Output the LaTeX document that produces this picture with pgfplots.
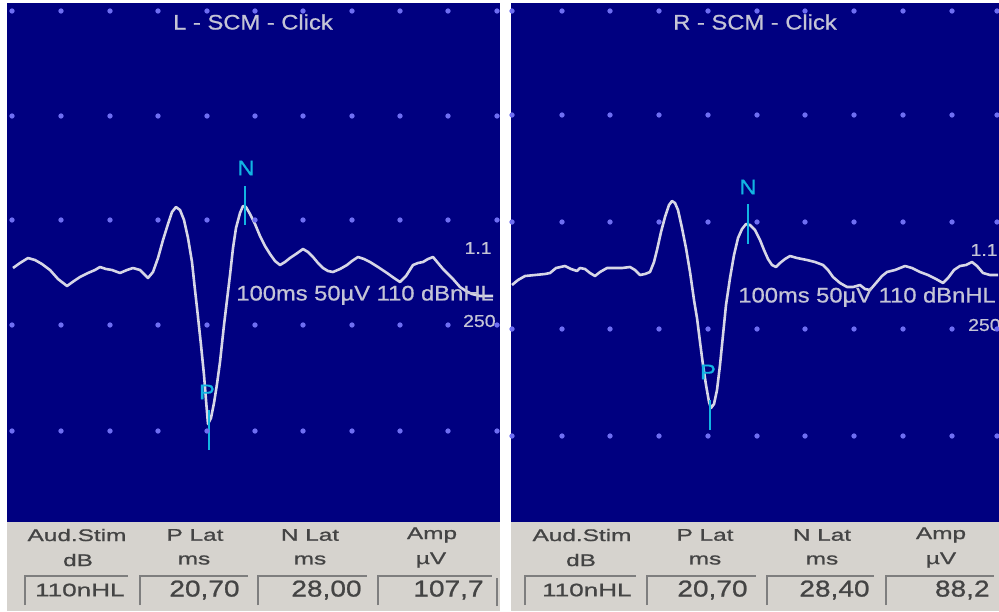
\documentclass[border=0pt]{standalone}
\usepackage{pgfplots}
\pgfplotsset{compat=1.18}
\usepackage{fontspec}
\setmainfont{Liberation Sans}
\newfontfamily\plotfont[FakeStretch=1.13,FakeBold=0.8]{Liberation Sans}
\newfontfamily\tabfont[FakeStretch=1.45,FakeBold=1.0]{Liberation Sans}
\newfontfamily\valfont[FakeStretch=1.22,FakeBold=0.9]{Liberation Sans}
\definecolor{bgblue}{HTML}{000080}
\definecolor{dotc}{HTML}{6E6EF2}
\definecolor{trace}{HTML}{D6D6E6}
\definecolor{mk}{HTML}{12B4E2}
\definecolor{txt}{HTML}{C4C4D6}
\definecolor{panel}{HTML}{D6D3CE}
\definecolor{boxl}{HTML}{7E7E7E}
\definecolor{tabtxt}{HTML}{444444}
\newcommand\ttlfont{\plotfont\fontsize{10.5pt}{12pt}\selectfont}
\newcommand\smlfont{\plotfont\fontsize{8.6pt}{10pt}\selectfont}
\newcommand\hdrfont{\tabfont\fontsize{8.4pt}{10pt}\selectfont}
\newcommand\vlfont{\valfont\fontsize{11.5pt}{13pt}\selectfont}
\newcommand\nhlfont{\tabfont\fontsize{9pt}{11pt}\selectfont}

\pgfplotstableread{
x y
13 268
20 263
28 258
35 260
42 264
50 270
58 279
67 286
74 281
80 277
88 273
95 270
100 267
106 269
112 270
120 273
127 270
133 268
140 270
148 278
153 272
158 258
163 240
168 224
172 212
176 207
180 210
184 220
188 238
192 262
195 290
198 317
201 345
204 375
206 400
208 424
211 418
214 403
217 384
220 362
224 325
227 300
230 275
233 248
236 228
240 213
243 206
246 207
250 214
255 224
260 236
265 246
270 254
275 261
280 265
285 262
290 258
296 254
303 249
308 252
313 257
318 263
323 268
328 271
333 272
340 269
347 265
352 261
358 257
364 259
370 262
378 267
387 273
394 278
400 282
406 276
413 265
418 263
423 262
428 259
433 257
438 263
443 269
447 273
453 279
460 287
466 291
472 294
480 296
493 296
}\leftdata

\pgfplotstableread{
x y
512 285
518 280
525 276
535 275
545 274
550 273
556 268
565 266
571 269
577 271
580 268
585 269
590 273
595 276
600 272
607 268
615 268
622 268
630 267
635 270
640 275
645 274
650 272
654 262
657 250
661 232
665 217
669 205
672 201
675 203
678 210
682 228
686 248
690 272
694 300
697 318
700 342
703 365
706 385
709 402
711 408
714 404
717 390
720 365
723 335
726 305
730 278
734 255
738 238
742 229
746 224
750 225
755 230
760 240
764 250
768 259
772 265
776 267
780 263
785 259
790 256
797 258
807 260
815 262
823 265
828 270
833 277
840 283
847 287
853 287
860 285
865 289
870 290
876 283
882 276
887 272
895 270
905 266
912 268
920 272
928 275
936 279
943 283
948 278
954 270
960 266
966 265
972 262
977 266
983 273
990 275
998 275
}\rightdata

\pgfplotsset{vemp/.style={
  scale only axis, y dir=reverse, clip=false,
  axis line style={draw=none}, ticks=none,
  axis background/.style={fill=bgblue},
  anchor=center, height=259.5pt,
  ymin=3, ymax=522,
}}

\begin{document}
\begin{tikzpicture}
\useasboundingbox (0,0) rectangle (499.5pt,305.5pt);
\fill[white] (0,0) rectangle (499.5pt,305.5pt);

% ---------------- left panel ----------------
\begin{axis}[vemp, at={(126.75pt,174.25pt)}, width=246.5pt, xmin=7, xmax=500]
\addplot[trace, line width=1.3pt, line join=round, no marks] table[x=x,y=y] {\leftdata};
\addplot[only marks, mark=*, mark size=1.1pt, color=dotc] coordinates {
(12,116)(61,116)(110,116)(158,116)(207,116)(255,116)(303,116)(352,116)(400,116)(448,116)(497,116)
(12,220)(61,220)(110,220)(158,220)(207,220)(255,220)(303,220)(352,220)(400,220)(448,220)(497,220)
(12,325)(61,325)(110,325)(158,325)(207,325)(255,325)(303,325)(352,325)(400,325)(448,325)(497,325)
(12,431)(61,431)(110,431)(158,431)(207,431)(255,431)(303,431)(352,431)(400,431)(448,431)(497,431)};
\addplot[only marks, mark=*, mark size=1.1pt, color=dotc] table {
x y
12 11
61 11
110 11
158 11
207 11
255 11
303 11
352 11
400 11
448 11
497 11
};
\addplot[mk, line width=1.2pt, no marks] coordinates {(245,186) (245,225)};
\addplot[mk, line width=1.2pt, no marks] coordinates {(209,410) (209,450)};
\node[mk, font=\ttlfont] at (axis cs:246,168) {N};
\node[mk, font=\ttlfont] at (axis cs:207,392) {P};
\node[txt, font=\ttlfont] at (axis cs:253,22) {L - SCM - Click};
\node[txt, font=\smlfont, anchor=east, inner sep=0] at (axis cs:492,248) {1.1};
\node[txt, font=\ttlfont, anchor=west, inner sep=0] at (axis cs:236,295) {100ms 50µV 110 dBnHL};
\node[txt, font=\smlfont, anchor=east, inner sep=0] at (axis cs:496,321) {250};
% table
\fill[panel] (axis cs:7,522) rectangle (axis cs:500,611);
\node[tabtxt, font=\hdrfont] at (axis cs:77,535) {Aud.Stim};
\node[tabtxt, font=\hdrfont] at (axis cs:78,560) {dB};
\node[tabtxt, font=\hdrfont] at (axis cs:195,535) {P Lat};
\node[tabtxt, font=\hdrfont] at (axis cs:194,560) {ms};
\node[tabtxt, font=\hdrfont] at (axis cs:310,535) {N Lat};
\node[tabtxt, font=\hdrfont] at (axis cs:310,560) {ms};
\node[tabtxt, font=\hdrfont] at (axis cs:432,535) {Amp};
\node[tabtxt, font=\hdrfont] at (axis cs:431,560) {µV};
\draw[boxl, line width=1.2pt] (axis cs:25,605) -- (axis cs:25,576) -- (axis cs:128,576);
\draw[boxl, line width=1.2pt] (axis cs:140,605) -- (axis cs:140,576) -- (axis cs:248,576);
\draw[boxl, line width=1.2pt] (axis cs:258,605) -- (axis cs:258,576) -- (axis cs:367,576);
\draw[boxl, line width=1.2pt] (axis cs:378,605) -- (axis cs:378,576) -- (axis cs:492,576);
\draw[boxl, line width=1.2pt] (axis cs:497,606) -- (axis cs:497,578);
\node[tabtxt, font=\nhlfont, anchor=east, inner sep=0] at (axis cs:125,590) {110nHL};
\node[tabtxt, font=\vlfont, anchor=east, inner sep=0] at (axis cs:240,590) {20,70};
\node[tabtxt, font=\vlfont, anchor=east, inner sep=0] at (axis cs:362,590) {28,00};
\node[tabtxt, font=\vlfont, anchor=east, inner sep=0] at (axis cs:484,590) {107,7};
\end{axis}

% ---------------- right panel ----------------
\begin{axis}[vemp, at={(377.5pt,174.25pt)}, width=244pt, xmin=511, xmax=999]
\addplot[trace, line width=1.3pt, line join=round, no marks] table[x=x,y=y] {\rightdata};
\addplot[only marks, mark=*, mark size=1.1pt, color=dotc] coordinates {
(512,115)(562,115)(610,115)(659,115)(708,115)(757,115)(805,115)(854,115)(903,115)(952,115)(997,115)
(512,222)(562,222)(610,222)(659,222)(708,222)(757,222)(805,222)(854,222)(903,222)(952,222)(997,222)
(512,329)(562,329)(610,329)(659,329)(708,329)(757,329)(805,329)(854,329)(903,329)(952,329)(997,329)
(512,436)(562,436)(610,436)(659,436)(708,436)(757,436)(805,436)(854,436)(903,436)(952,436)(997,436)};
\addplot[only marks, mark=*, mark size=1.1pt, color=dotc] table {
x y
512 11
562 11
610 11
659 11
708 11
757 11
805 11
854 11
903 11
952 11
997 11
};
\addplot[mk, line width=1.2pt, no marks] coordinates {(748,204) (748,244)};
\addplot[mk, line width=1.2pt, no marks] coordinates {(710,400) (710,430)};
\node[mk, font=\ttlfont] at (axis cs:748,187) {N};
\node[mk, font=\ttlfont] at (axis cs:708,372) {P};
\node[txt, font=\ttlfont] at (axis cs:755,22) {R - SCM - Click};
\node[txt, font=\smlfont, anchor=east, inner sep=0] at (axis cs:998,250) {1.1};
\node[txt, font=\ttlfont, anchor=west, inner sep=0] at (axis cs:738,297) {100ms 50µV 110 dBnHL};
\node[txt, font=\smlfont, anchor=east, inner sep=0] at (axis cs:1001,325) {250};
% table
\fill[panel] (axis cs:511,522) rectangle (axis cs:999,611);
\node[tabtxt, font=\hdrfont] at (axis cs:582,535) {Aud.Stim};
\node[tabtxt, font=\hdrfont] at (axis cs:581,560) {dB};
\node[tabtxt, font=\hdrfont] at (axis cs:705,535) {P Lat};
\node[tabtxt, font=\hdrfont] at (axis cs:705,560) {ms};
\node[tabtxt, font=\hdrfont] at (axis cs:822,535) {N Lat};
\node[tabtxt, font=\hdrfont] at (axis cs:822,560) {ms};
\node[tabtxt, font=\hdrfont] at (axis cs:941,535) {Amp};
\node[tabtxt, font=\hdrfont] at (axis cs:941,560) {µV};
\draw[boxl, line width=1.2pt] (axis cs:525,605) -- (axis cs:525,576) -- (axis cs:636,576);
\draw[boxl, line width=1.2pt] (axis cs:647,605) -- (axis cs:647,576) -- (axis cs:756,576);
\draw[boxl, line width=1.2pt] (axis cs:767,605) -- (axis cs:767,576) -- (axis cs:874,576);
\draw[boxl, line width=1.2pt] (axis cs:886,605) -- (axis cs:886,576) -- (axis cs:994,576);
\node[tabtxt, font=\nhlfont, anchor=east, inner sep=0] at (axis cs:632,590) {110nHL};
\node[tabtxt, font=\vlfont, anchor=east, inner sep=0] at (axis cs:748,590) {20,70};
\node[tabtxt, font=\vlfont, anchor=east, inner sep=0] at (axis cs:870,590) {28,40};
\node[tabtxt, font=\vlfont, anchor=east, inner sep=0] at (axis cs:990,590) {88,2};
\end{axis}
\end{tikzpicture}
\end{document}
